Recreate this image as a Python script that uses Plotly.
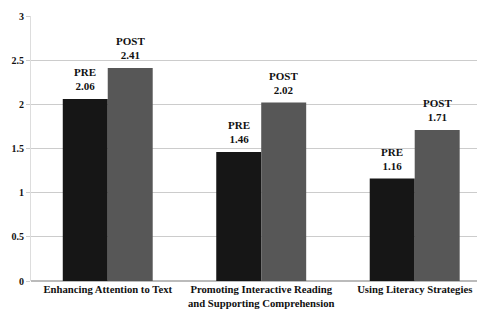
import plotly.graph_objects as go

categories = ["Enhancing Attention to Text",
              "Promoting Interactive Reading<br>and Supporting Comprehension",
              "Using Literacy Strategies"]
pre_values = [2.06, 1.46, 1.16]
post_values = [2.41, 2.02, 1.71]
pre_labels = [f"PRE<br>{v:.2f}" for v in pre_values]
post_labels = [f"POST<br>{v:.2f}" for v in post_values]
y_ticks = [0, 0.5, 1, 1.5, 2, 2.5, 3]
y_tick_labels = ["0", "0.5", "1", "1.5", "2", "2.5", "3"]

font_family = "Times New Roman"

fig = go.Figure()
fig.add_trace(go.Bar(
    x=categories, y=pre_values, name="PRE",
    marker=dict(color="#161616", line=dict(width=0)),
))
fig.add_trace(go.Bar(
    x=categories, y=post_values, name="POST",
    marker=dict(color="#575757", line=dict(width=0)),
))

bar_offset = 0.1466
for i, (v, lab) in enumerate(zip(pre_values, pre_labels)):
    fig.add_annotation(x=i - bar_offset, y=v, text=f"<b>{lab}</b>",
                       showarrow=False, yanchor="bottom", yshift=5,
                       font=dict(family=font_family, size=11, color="#111"))
for i, (v, lab) in enumerate(zip(post_values, post_labels)):
    fig.add_annotation(x=i + bar_offset, y=v, text=f"<b>{lab}</b>",
                       showarrow=False, yanchor="bottom", yshift=5,
                       font=dict(family=font_family, size=11, color="#111"))

fig.update_layout(
    width=477, height=308,
    margin=dict(l=23, r=0, t=8, b=35),
    paper_bgcolor="white", plot_bgcolor="white",
    barmode="group", bargap=0.414, bargroupgap=0,
    showlegend=False,
    font=dict(family=font_family, color="#111"),
)
fig.update_xaxes(
    range=[-0.5, 2.458], showgrid=False,
    tickvals=categories, tickangle=0,
    ticktext=[f"<b>{c}</b>" for c in categories],
    tickfont=dict(family=font_family, size=10.7, color="#111"),
    showline=False, ticks="",
)
fig.update_yaxes(
    range=[0, 3], tickvals=y_ticks,
    ticktext=[f"<b>{t}</b>" for t in y_tick_labels],
    showgrid=True, gridcolor="#cccccc", gridwidth=1,
    zeroline=True, zerolinecolor="#bbbbbb",
    showline=True, linecolor="#dddddd", linewidth=1,
    ticks="outside", ticklen=4, tickcolor="#cccccc",
    tickfont=dict(family=font_family, size=10, color="#111"),
)

fig.write_html("out.html")
